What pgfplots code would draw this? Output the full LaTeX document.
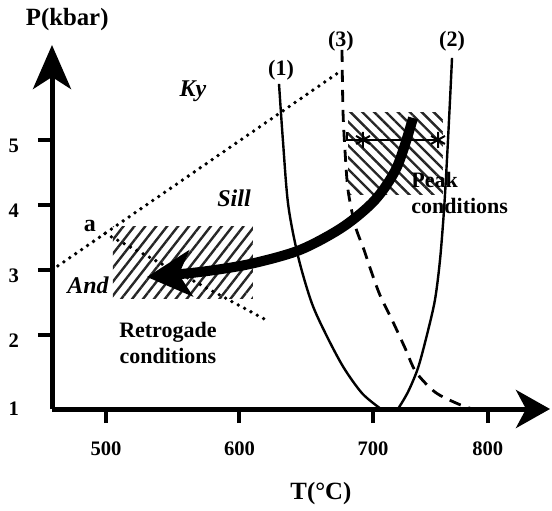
\documentclass[border=0pt]{standalone}
\usepackage{pgfplots}
\pgfplotsset{compat=1.18}
\usepackage{fontspec}
\setmainfont{Liberation Serif}
\usetikzlibrary{arrows.meta,patterns.meta}

\begin{document}
\begin{tikzpicture}
\useasboundingbox (0,0) rectangle (276pt,255pt);
\begin{axis}[
  at={(26pt,50.5pt)}, anchor=south west,
  scale only axis, width=249pt, height=182pt,
  xmin=459.55, xmax=832.6, ymin=0.862, ymax=6.46,
  axis lines=left,
  axis line style={line width=2.5pt, black},
  x axis line style={-{Stealth[length=17pt,width=19pt,inset=5pt]}},
  y axis line style={-{Stealth[length=22pt,width=19pt,inset=6pt]}},
  xtick={500,600,700,786}, xticklabels={500,600,700,800},
  ytick={2,3,4,5}, yticklabels={2,3,4,5},
  extra y ticks={0.862}, extra y tick labels={1},
  extra y tick style={tick style={draw=none}, yticklabel style={yshift=3pt}},
  tick style={line width=2pt, black},
  tick align=outside,
  major tick length=7pt,
  ticklabel style={font=\fontsize{10.3}{12}\selectfont\bfseries},
  xticklabel style={yshift=-6pt},
  yticklabel style={xshift=-6pt, yshift=-3pt},
  xlabel={T(°C)}, ylabel={P(kbar)},
  every axis x label/.style={at={(rel axis cs:0.540,0)}, yshift=-42.5pt, anchor=center, font=\fontsize{12.4}{14}\selectfont\bfseries},
  every axis y label/.style={at={(rel axis cs:0.0305,1.0687)}, anchor=center, font=\fontsize{12.4}{14}\selectfont\bfseries},
  clip=false,
]
% hatched areas
\addplot[draw=none, pattern={Lines[angle=52,distance=4.3pt,line width=1.2pt]}, pattern color=black!85]
  coordinates {(505.2,2.554) (610.1,2.554) (610.1,3.662) (505.2,3.662)} --cycle;
\addplot[draw=none, pattern={Lines[angle=-45,distance=4.2pt,line width=1.2pt]}, pattern color=black!85]
  coordinates {(681.3,4.154) (752.4,4.154) (752.4,5.415) (681.3,5.415)} --cycle;
% curve (1)
\addplot[black, line width=1.2pt, smooth] coordinates {
  (629.6,5.862) (632.5,5.0) (636.5,4.0) (644.0,3.2) (654.0,2.5) (665.0,2.0)
  (678.0,1.5) (692.0,1.1) (706.0,0.862)};
% curve (2)
\addplot[black, line width=1.2pt, smooth] coordinates {
  (718.7,0.862) (726.2,1.123) (733.7,1.492) (740.4,2.0) (746.4,2.538) (750.2,3.154)
  (753.2,3.923) (755.4,4.692) (757.7,5.615) (759.2,6.262)};
% curve (3)
\addplot[black, line width=1.4pt, smooth, dash pattern=on 6pt off 4pt] coordinates {
  (676.8,6.385) (677.5,5.462) (679.0,4.846) (681.3,4.231) (686.5,3.692) (693.3,3.308)
  (697.8,3.031) (705.2,2.615) (715.0,2.2) (724.0,1.8) (732.2,1.431) (746.4,1.123)
  (762.2,0.954) (774.2,0.862)};
% dotted reaction lines
\addplot[black, line width=1.9pt, line cap=round, dash pattern=on 0pt off 3.6pt]
  coordinates {(459.55,3.0) (673.8,6.031)};
\addplot[black, line width=1.9pt, line cap=round, dash pattern=on 0pt off 3.6pt]
  coordinates {(499.3,3.562) (622.8,2.2)};
% peak conditions
\addplot[black, line width=1pt] coordinates {(680.5,5.12) (680.5,5) (750.2,5)};
\addplot[black, only marks, mark=asterisk, mark size=4pt, mark options={line width=1pt}]
  coordinates {(692.5,5) (748.7,5)};
% P-T path arrow
\addplot[black, line width=5pt, smooth, line cap=butt, -{Stealth[length=22pt,width=23pt,inset=6pt]}] coordinates {
  (730.0,5.338) (718.0,4.585) (701.5,4.077) (677.5,3.662) (645.3,3.308)
  (607.9,3.092) (570.4,2.969) (530.7,2.892)};
% labels
\node[font=\fontsize{12}{14}\selectfont\bfseries\itshape] at (axis cs:565.2,5.754) {Ky};
\node[font=\fontsize{12}{14}\selectfont\bfseries\itshape] at (axis cs:595.9,4.108) {Sill};
\node[font=\fontsize{12}{14}\selectfont\bfseries\itshape] at (axis cs:486.5,2.769) {And};
\node[font=\fontsize{12}{14}\selectfont\bfseries] at (axis cs:488.0,3.677) {a};
\node[font=\fontsize{11}{13}\selectfont\bfseries, align=center, inner sep=0pt] at (axis cs:546.4,1.877) {Retrogade\\conditions};
\node[font=\fontsize{11}{13}\selectfont\bfseries, align=left, inner sep=0pt, anchor=west] at (axis cs:728.5,4.185) {Peak\\conditions};
\node[font=\fontsize{11}{13}\selectfont\bfseries] at (axis cs:631.1,6.077) {(1)};
\node[font=\fontsize{11}{13}\selectfont\bfseries] at (axis cs:676.0,6.523) {(3)};
\node[font=\fontsize{11}{13}\selectfont\bfseries] at (axis cs:759.2,6.523) {(2)};
\end{axis}
\end{tikzpicture}
\end{document}
